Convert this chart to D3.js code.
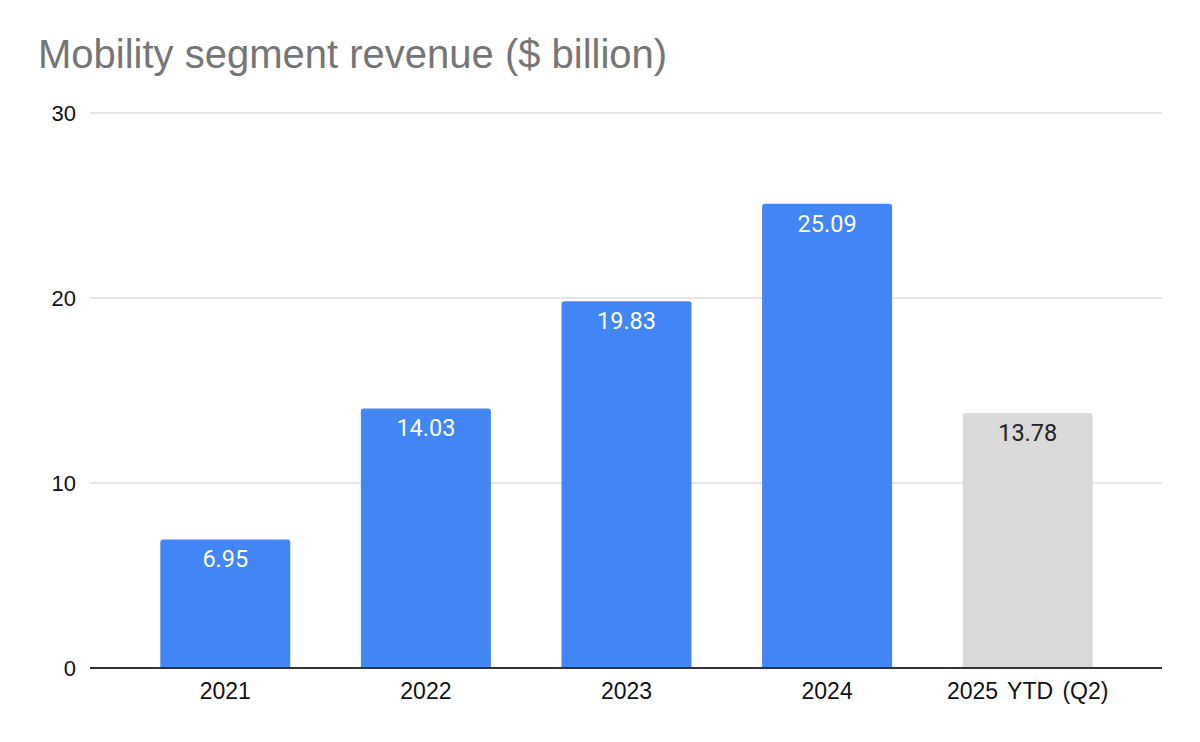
<!DOCTYPE html>
<html>
<head>
<meta charset="utf-8">
<script src="https://cdn.jsdelivr.net/npm/d3@7"></script>
<style>
  body { margin: 0; background: #fff; }
  svg { display: block; }
</style>
</head>
<body>
<div id="chart"></div>
<script>
var categories = ["2021", "2022", "2023", "2024", "2025 YTD (Q2)"];
var revenue = [6.95, 14.03, 19.83, 25.09, 13.78];
var barColors = ["#4285f4", "#4285f4", "#4285f4", "#4285f4", "#d9d9d9"];
var labelColors = ["#ffffff", "#ffffff", "#ffffff", "#ffffff", "#222222"];
var yTicks = [0, 10, 20, 30];

var W = 1200, H = 742;
var margin = {top: 113, right: 38, bottom: 74, left: 90};

var svg = d3.select("#chart").append("svg")
    .attr("width", W)
    .attr("height", H);

svg.append("text")
    .attr("x", 38)
    .attr("y", 68)
    .attr("font-family", "Liberation Sans, Arial, sans-serif")
    .attr("font-size", 40)
    .attr("fill", "#757575")
    .text("Mobility segment revenue ($ billion)");

var data = categories.map(function(c, i) {
    return {cat: c, value: revenue[i], color: barColors[i], labelColor: labelColors[i]};
});

var x = d3.scaleBand()
    .domain(categories)
    .range([125, 1128])
    .paddingInner(0.352)
    .paddingOuter(0.176);

var y = d3.scaleLinear()
    .domain([0, 30])
    .range([H - margin.bottom, margin.top]);

// gridlines
svg.append("g")
    .selectAll("line")
    .data(yTicks.filter(function(d) { return d > 0; }))
    .enter().append("line")
        .attr("x1", margin.left)
        .attr("x2", W - margin.right)
        .attr("y1", function(d) { return y(d); })
        .attr("y2", function(d) { return y(d); })
        .attr("stroke", "#cccccc")
        .attr("stroke-width", 1);

// y axis labels
var yAxis = d3.axisLeft(y).tickValues(yTicks).tickSize(0).tickPadding(14);
var yG = svg.append("g")
    .attr("transform", "translate(" + (margin.left) + ",0)")
    .call(yAxis);
yG.select(".domain").remove();
yG.selectAll("text")
    .attr("font-family", "Liberation Sans, Arial, sans-serif")
    .attr("font-size", 22)
    .attr("fill", "#111111");

function topRounded(x0, y0, w, h, r) {
    r = Math.min(r, h);
    return "M" + x0 + "," + (y0 + h) +
        "V" + (y0 + r) +
        "Q" + x0 + "," + y0 + " " + (x0 + r) + "," + y0 +
        "H" + (x0 + w - r) +
        "Q" + (x0 + w) + "," + y0 + " " + (x0 + w) + "," + (y0 + r) +
        "V" + (y0 + h) + "Z";
}

// bars
svg.append("g")
    .selectAll("path")
    .data(data)
    .enter().append("path")
        .attr("d", function(d) {
            return topRounded(x(d.cat), y(d.value), x.bandwidth(), y(0) - y(d.value), 3);
        })
        .attr("fill", function(d) { return d.color; });

// value labels
svg.append("g")
    .selectAll("text")
    .data(data)
    .enter().append("text")
        .attr("x", function(d) { return x(d.cat) + x.bandwidth() / 2; })
        .attr("y", function(d) { return y(d.value) + 28; })
        .attr("text-anchor", "middle")
        .attr("font-family", "Roboto, sans-serif")
        .attr("font-size", 23.5)
        .attr("fill", function(d) { return d.labelColor; })
        .text(function(d) { return d.value.toFixed(2); });

// baseline
svg.append("line")
    .attr("x1", margin.left)
    .attr("x2", W - margin.right)
    .attr("y1", y(0))
    .attr("y2", y(0))
    .attr("stroke", "#333333")
    .attr("stroke-width", 2);

// x axis labels
var xAxis = d3.axisBottom(x).tickSize(0).tickPadding(15);
var xG = svg.append("g")
    .attr("transform", "translate(0," + y(0) + ")")
    .call(xAxis);
xG.select(".domain").remove();
xG.selectAll("text")
    .attr("font-family", "Liberation Sans, Arial, sans-serif")
    .attr("font-size", 23)
    .attr("word-spacing", 3)
    .attr("fill", "#111111");
</script>
</body>
</html>
